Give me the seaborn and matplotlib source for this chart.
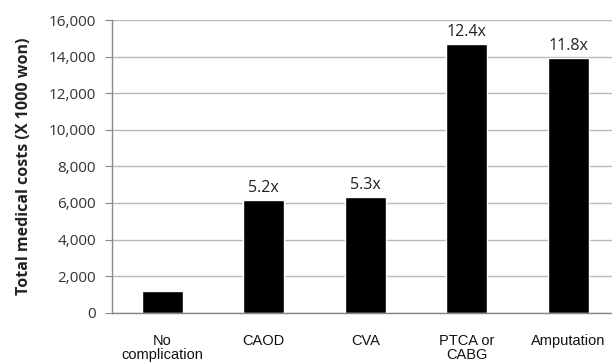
import numpy as np
import matplotlib
matplotlib.use("Agg")
import matplotlib.pyplot as plt
import seaborn as sns

# valores
categorias = ["No\ncomplication", "CAOD", "CVA", "PTCA or\nCABG", "Amputation"]
custos = [1190, 6150, 6330, 14670, 13940]
rotulos = ["", "5.2x", "5.3x", "12.4x", "11.8x"]
yticks = [0, 2000, 4000, 6000, 8000, 10000, 12000, 14000, 16000]

sns.set_style("white")
plt.rcParams["font.family"] = ["Open Sans", "DejaVu Sans"]

fig = plt.figure(figsize=(6.12, 3.64), dpi=100)
ax = fig.add_axes([111.5 / 612, 51.3 / 364, 507.5 / 612, 292.7 / 364])

sns.barplot(x=categorias, y=custos, color="black", width=0.4, saturation=1, ax=ax)

ax.set_xlim(-0.5, 4.5)
ax.set_ylim(0, 16000)
ax.set_yticks(yticks)
ax.set_yticklabels([f"{v:,}" for v in yticks], fontsize=11, color="#333333")
ax.yaxis.grid(True, color="#b8b8b8", linewidth=1.0)
ax.set_axisbelow(True)

# ticks do eixo x entre as categorias (estilo Excel)
ax.set_xticks(np.arange(-0.5, 5, 1), minor=True)
ax.tick_params(axis="x", which="major", length=0, pad=15)
ax.tick_params(axis="x", which="minor", length=5, color="#888888", direction="out")
ax.tick_params(axis="y", length=5, color="#888888", direction="out", pad=6, left=True)
for lab in ax.get_xticklabels():
    lab.set_fontfamily("Liberation Sans")
    lab.set_fontsize(10.5)
    lab.set_linespacing(1.0)
    lab.set_color("#111111")

for s in ["top", "right"]:
    ax.spines[s].set_visible(False)
for s in ["left", "bottom"]:
    ax.spines[s].set_color("#888888")
    ax.spines[s].set_linewidth(1.0)

for i, (v, t) in enumerate(zip(custos, rotulos)):
    if t:
        ax.annotate(t, (i, v), xytext=(0, 3), textcoords="offset points",
                    ha="center", va="bottom", fontsize=11.5, color="#222222")

ax.set_xlabel("")
ax.set_ylabel("Total medical costs (X 1000 won)", fontsize=11.5, fontweight="bold",
              color="#222222", labelpad=12)

fig.savefig("out.png", dpi=100)
